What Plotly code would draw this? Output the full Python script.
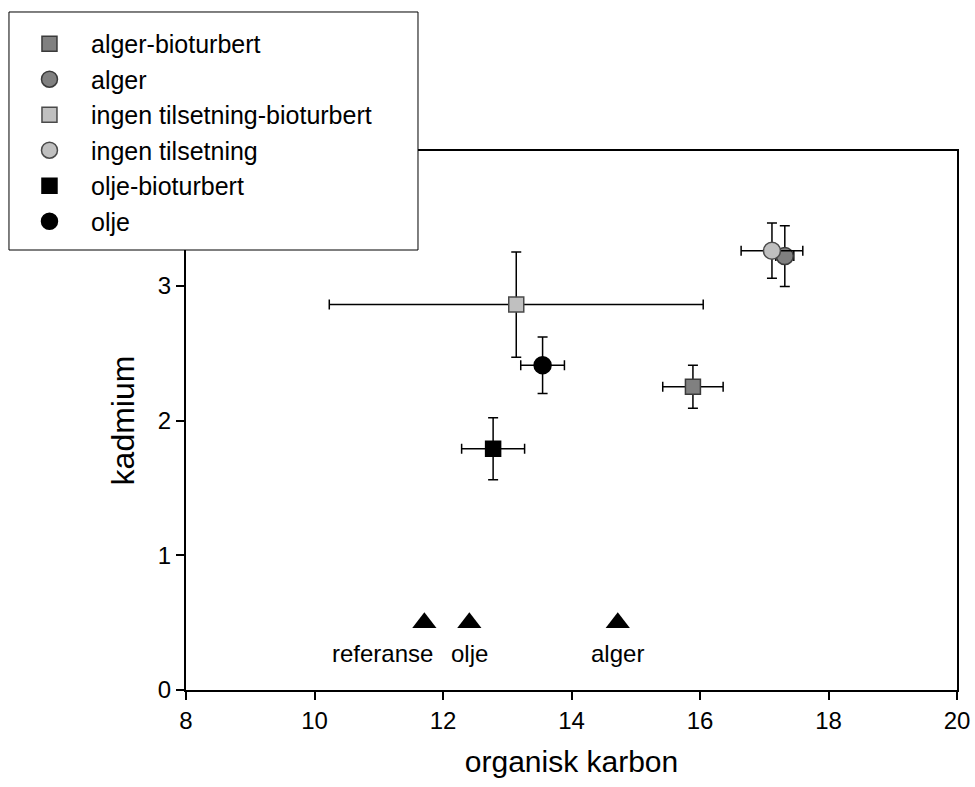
import plotly.graph_objects as go

# Series data (organisk karbon vs kadmium)
series_names = ["alger-bioturbert", "alger", "ingen tilsetning-bioturbert",
                "ingen tilsetning", "olje-bioturbert", "olje"]
carbon = [15.89, 17.32, 13.14, 17.12, 12.78, 13.55]
carbon_err = [0.47, 0.14, 2.91, 0.48, 0.49, 0.34]
cadmium = [2.25, 3.22, 2.86, 3.26, 1.79, 2.41]
cadmium_err = [0.16, 0.225, 0.39, 0.205, 0.23, 0.21]

# Reference (initial) organic carbon levels
ref_labels = ["referanse", "olje", "alger"]
ref_carbon = [11.71, 12.41, 14.72]
ref_level = [0.5, 0.5, 0.5]

x_ticks = [8, 10, 12, 14, 16, 18, 20]
y_ticks = [0, 1, 2, 3]

fills = ["#808080", "#808080", "#c0c0c0", "#c0c0c0", "#000000", "#000000"]
lines = ["#3a3a3a", "#3a3a3a", "#4a4a4a", "#4a4a4a", "#000000", "#000000"]
symbols = ["square", "circle", "square", "circle", "square", "circle"]
sizes = [15, 17, 15, 17, 15, 17]

fig = go.Figure()
for i, name in enumerate(series_names):
    fig.add_trace(go.Scatter(
        x=[carbon[i]], y=[cadmium[i]], mode="markers", name=name,
        legendgroup=name,
        marker=dict(symbol=symbols[i], size=sizes[i], color=fills[i],
                    line=dict(color=lines[i], width=1.5)),
        error_x=dict(type="data", array=[carbon_err[i]], color="black",
                     thickness=1.5, width=5),
        error_y=dict(type="data", array=[cadmium_err[i]], color="black",
                     thickness=1.5, width=5),
    ))

fig.add_trace(go.Scatter(
    x=ref_carbon, y=ref_level, mode="markers", showlegend=False,
    marker=dict(symbol="triangle-up", size=21, color="black"),
))

for lbl, xc, yl in zip(ref_labels, ref_carbon, ref_level):
    if lbl == "referanse":
        fig.add_annotation(x=xc, y=yl, text=lbl, showarrow=False,
                           xanchor="right", yanchor="middle", xshift=11, yshift=-31,
                           font=dict(size=24, color="black"))
    else:
        fig.add_annotation(x=xc, y=yl, text=lbl, showarrow=False,
                           xanchor="center", yanchor="middle", yshift=-31,
                           font=dict(size=24, color="black"))

axis_common = dict(showgrid=False, zeroline=False, showline=True, linecolor="black",
                   linewidth=2, mirror=True, ticks="outside", ticklen=8,
                   tickwidth=1.5, tickcolor="black",
                   tickfont=dict(size=24, color="black"))

fig.update_xaxes(range=[8, 20], tickvals=x_ticks,
                 title=dict(text="organisk karbon", font=dict(size=30, color="black"), standoff=18),
                 **axis_common)
fig.update_yaxes(range=[0, 4], tickvals=y_ticks,
                 title=dict(text="kadmium", font=dict(size=32, color="black"), standoff=14),
                 **axis_common)

# legend frame (white box with thin border)
fig.add_shape(type="rect", xref="paper", yref="paper",
              x0=-0.2296, x1=0.3009, y0=0.8163, y1=1.2579,
              fillcolor="white", line=dict(color="black", width=1), layer="above")

fig.update_layout(
    width=975, height=787, autosize=False,
    margin=dict(l=186, r=18, t=151, b=97, autoexpand=False),
    paper_bgcolor="white", plot_bgcolor="white",
    font=dict(family="Liberation Sans, Arial, sans-serif", color="black"),
    legend=dict(x=-0.2309, y=1.2412, xanchor="left", yanchor="top",
                bgcolor="rgba(0,0,0,0)", borderwidth=0,
                font=dict(size=25, color="black"), itemwidth=73,
                traceorder="grouped", tracegroupgap=0),
)

fig.write_html("out.html", config={"displayModeBar": False},
               post_script="document.body.style.margin='0';document.body.style.overflow='hidden';")
